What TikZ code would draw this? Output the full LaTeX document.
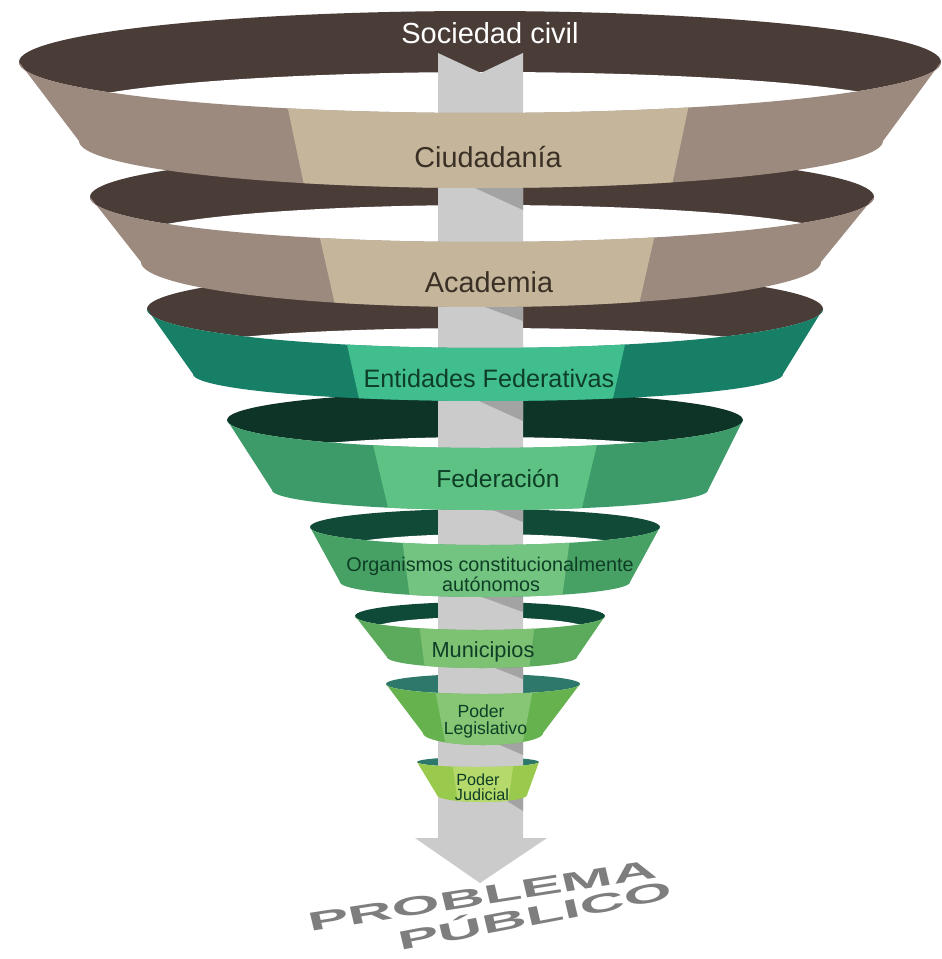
\documentclass[tikz,border=0pt]{standalone}
\usepackage{fontspec}
\setmainfont{Liberation Sans}
\definecolor{brdark}{HTML}{4A3C37}
\definecolor{taupe}{HTML}{9D8A7F}
\definecolor{beige}{HTML}{C4B59B}
\definecolor{brtext}{HTML}{3B3026}
\definecolor{gthreeS}{HTML}{177F66}
\definecolor{gthreeL}{HTML}{41BE8D}
\definecolor{gtopA}{HTML}{0E3327}
\definecolor{gfourS}{HTML}{3C9B69}
\definecolor{gfourL}{HTML}{5DC283}
\definecolor{gtopB}{HTML}{114A36}
\definecolor{gfiveS}{HTML}{47A064}
\definecolor{gfiveL}{HTML}{73C480}
\definecolor{gtopC}{HTML}{0F4A39}
\definecolor{gsixS}{HTML}{5CAA5C}
\definecolor{gsixL}{HTML}{7DC173}
\definecolor{tealtop}{HTML}{2D786B}
\definecolor{gsevenS}{HTML}{66B24F}
\definecolor{gsevenL}{HTML}{86C674}
\definecolor{geightS}{HTML}{9ACA4D}
\definecolor{geightL}{HTML}{B6D96B}
\definecolor{gtext}{HTML}{0E3F26}
\definecolor{arrowgray}{HTML}{CBCBCB}
\definecolor{arrowdark}{HTML}{A3A3A3}
\definecolor{ptext}{HTML}{7E7E7E}
\tikzset{
  lbl/.style={inner sep=0pt, anchor=base},
  bigword/.style={transform shape, inner sep=0pt, anchor=base west,
    font=\bfseries\fontsize{30.4}{34}\selectfont}
}
\begin{document}
\begin{tikzpicture}[x=0.5pt,y=-0.5pt]
\useasboundingbox (0,0) rectangle (942,959);
\fill[white] (0,0) rectangle (942,959);

% rims (inside of each ring), lowest ring first
\foreach \cx/\cy/\rx/\ry/\col in {478/762/61/5/tealtop, 483/684/97/10/tealtop,
  480/616/125/14/gtopC, 485/527/175/18/gtopB, 485/420/258/28/gtopA,
  485/309/338/39/brdark, 482/197/392/45/brdark, 480/62/461/51/brdark}
  \fill[fill=\col] (\cx,\cy) ellipse [x radius=\rx, y radius=\ry];

% openings
\foreach \cx/\cy/\rx/\ry in {480/630/110/13, 485/550/150/16, 485/456/215/19,
  485/348/290/20, 487/240/360/35, 487/112/432/40}
  \fill[white] (\cx,\cy) ellipse [x radius=\rx, y radius=\ry];

% arrow
\fill[arrowgray] (438,53) -- (481,73) -- (523,53) -- (523,838) -- (547,838)
  -- (480,883) -- (415,838) -- (438,838) -- cycle;
\foreach \xs/\yb/\h in {475/188/22, 485/307/14, 479/401/20, 493/510/12,
  482/597/15, 495/668/11, 500/745/10, 507/801/10}
  \fill[arrowdark] (\xs,\yb) -- (523,\yb+\h) -- (523,\yb-14) -- (\xs,\yb-14) -- cycle;

% front bands, lowest ring first
\foreach \cx/\cy/\rx/\ry/\bx/\by/\brx/\bry/\lc/\lta/\lba/\sidec/\lightc in {
  478/762/61/5/482/795/45/7/483/30/25/geightS/geightL,
  483/684/97/10/483/733/60/12/484/48/38/gsevenS/gsevenL,
  480/616/125/14/482/657/95/11/477/57/52/gsixS/gsixL,
  485/527/175/18/485/582/145/15/486/83/76/gfiveS/gfiveL,
  485/420/258/28/490/490/218/20/485/111/96/gfourS/gfourL,
  485/309/338/39/488/374/295/27/486/138/126/gthreeS/gthreeL,
  482/197/392/45/481/262/340/45/487/166/151/taupe/beige,
  480/62/461/51/481/141/402/47/488/199/183/taupe/beige}{
  \begin{scope}
    \clip plot[domain=180:360,samples=80,variable=\t] ({\cx+\rx*cos(\t)},{\cy-\ry*sin(\t)})
      -- plot[domain=360:180,samples=80,variable=\t] ({\bx+\brx*cos(\t)},{\by-\bry*sin(\t)})
      -- cycle;
    \fill[fill=\sidec] (0,0) rectangle (942,959);
    \pgfmathsetmacro\yT{\cy+\ry}
    \pgfmathsetmacro\yB{\by+\bry}
    \pgfmathsetmacro\myext{(\lta-\lba)*(\ry+5)/(\yB-\yT)}
    \fill[fill=\lightc] ({\lc-\lta-\myext},{\cy-5}) -- ({\lc+\lta+\myext},{\cy-5})
      -- ({\lc+\lba},{\yB+2}) -- ({\lc-\lba},{\yB+2}) -- cycle;
  \end{scope}
}

% labels
\node[lbl, text=white, font=\fontsize{14.5}{17}\selectfont] (soc) at (490,43) {Sociedad civil};
\node[lbl, text=brtext, font=\fontsize{14.4}{17}\selectfont] (ciud) at (488,167) {Ciudadanía};
\node[lbl, text=brtext, font=\fontsize{14.4}{17}\selectfont] (acad) at (489,292) {Academia};
\node[lbl, text=gtext, font=\fontsize{12.6}{15}\selectfont] (ent) at (489,387) {Entidades Federativas};
\node[lbl, text=gtext, font=\fontsize{12.3}{15}\selectfont] (fed) at (498,487) {Federación};
\node[lbl, text=gtext, font=\fontsize{9.9}{12}\selectfont] (orgA) at (490,571) {Organismos constitucionalmente};
\node[lbl, text=gtext, font=\fontsize{9.9}{12}\selectfont] (orgB) at (491,591) {autónomos};
\node[lbl, text=gtext, font=\fontsize{10.9}{13}\selectfont] (mun) at (483,657) {Municipios};
\node[lbl, text=gtext, font=\fontsize{8.8}{11}\selectfont] (legA) at (481,717) {Poder};
\node[lbl, text=gtext, font=\fontsize{8.8}{11}\selectfont] (legB) at (485.5,734) {Legislativo};
\node[lbl, text=gtext, font=\fontsize{8.1}{10}\selectfont] (judA) at (478,785) {Poder};
\node[lbl, text=gtext, font=\fontsize{8.1}{10}\selectfont] (judB) at (482,800) {Judicial};

% floor text
\begin{scope}[shift={(310,932)},cm={1,0.155,-0.1,0.42,(0,0)}]
  \node[bigword, text=ptext] (prob) at (0,0) {PROBLEMA};
\end{scope}
\begin{scope}[shift={(400,951)},cm={1,0.19,-0.1,0.42,(0,0)}]
  \node[bigword, text=ptext] (pub) at (0,0) {PÚBLICO};
\end{scope}
\end{tikzpicture}
\end{document}
